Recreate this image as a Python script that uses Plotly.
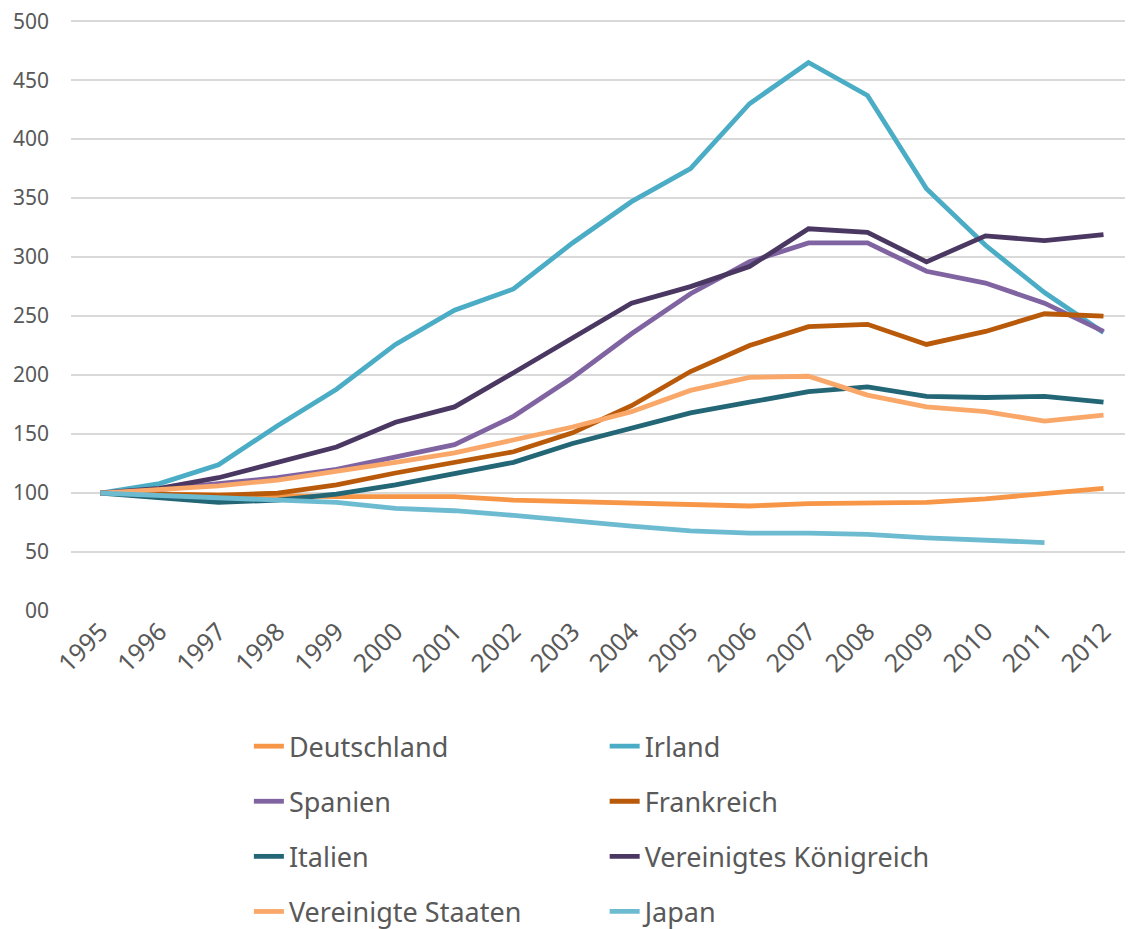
import plotly.graph_objects as go

years = [str(y) for y in range(1995, 2013)]

deutschland = [100, 99, 98, 97, 97, 97, 97, 94, 93, 92, 90, 89, 91, 91, 92, 95, 100, 104]
irland = [100, 108, 124, 157, 188, 226, 255, 273, 312, 347, 375, 430, 465, 437, 358, 310, 270, 236]
spanien = [100, 103, 108, 113, 120, 130, 141, 165, 198, 235, 269, 296, 312, 312, 288, 278, 261, 237]
frankreich = [100, 99, 98, 100, 107, 117, 126, 135, 151, 174, 203, 225, 241, 243, 226, 237, 252, 250]
italien = [100, 96, 92, 94, 99, 107, 117, 126, 142, 155, 168, 177, 186, 190, 182, 181, 182, 177]
vereinigtes_koenigreich = [100, 104, 113, 126, 139, 160, 173, 202, 232, 261, 275, 292, 324, 321, 296, 318, 314, 319]
vereinigte_staaten = [100, 103, 106, 111, 118, 126, 134, 145, 156, 169, 187, 198, 199, 183, 173, 169, 161, 166]
japan = [100, 98, 96, 95, 92, 87, 85, 81, 76, 72, 68, 66, 66, 65, 62, 60, 58, None]

y_ticks = [0, 50, 100, 150, 200, 250, 300, 350, 400, 450, 500]
y_tick_labels = ["00", "50", "100", "150", "200", "250", "300", "350", "400", "450", "500"]

# (name, values, colour, legend column)
series = [
    ("Deutschland", deutschland, "#F79646", "legend"),
    ("Irland", irland, "#4BACC6", "legend2"),
    ("Spanien", spanien, "#8064A2", "legend"),
    ("Frankreich", frankreich, "#B95A0A", "legend2"),
    ("Italien", italien, "#236676", "legend"),
    ("Vereinigtes Königreich", vereinigtes_koenigreich, "#4A3862", "legend2"),
    ("Vereinigte Staaten", vereinigte_staaten, "#F9A86A", "legend"),
    ("Japan", japan, "#6DBBD0", "legend2"),
]

FONT = "Noto Sans, Liberation Sans, sans-serif"
GREY = "#595959"

fig = go.Figure()
for name, values, colour, leg in series:
    fig.add_trace(
        go.Scatter(
            x=years,
            y=values,
            mode="lines",
            name=name,
            line={"color": colour, "width": 4.8},
            legend=leg,
            legendgroup=name,
        )
    )

# two vertical legends side by side, placed below the plot area
legend_common = {
    "font": {"family": FONT, "size": 27, "color": GREY},
    "orientation": "v",
    "xanchor": "left",
    "yanchor": "top",
    "y": -0.188,
    "tracegroupgap": 17,
    "bgcolor": "rgba(0,0,0,0)",
}

# the page adds an 8px body margin, so the plot area is shifted by 8px
fig.update_layout(
    width=1125,
    height=929,
    margin={"l": 63, "r": 0, "t": 12, "b": 326, "autoexpand": False},
    paper_bgcolor="white",
    plot_bgcolor="white",
    font={"family": FONT, "color": GREY},
    showlegend=True,
    legend={**legend_common, "x": 0.1675},
    legend2={**legend_common, "x": 0.5025},
    xaxis={
        "type": "category",
        "range": [-0.5, 17.5],
        "tickangle": -45,
        "tickfont": {"size": 25, "color": GREY},
        "showgrid": False,
        "showline": False,
        "ticks": "",
    },
    yaxis={
        "range": [0, 501],
        "tickvals": y_ticks,
        "ticktext": y_tick_labels,
        "tickfont": {"size": 21, "color": GREY},
        "showgrid": True,
        "gridcolor": "#D9D9D9",
        "gridwidth": 1.5,
        "zeroline": False,
        "showline": False,
        "ticks": "",
        "ticklabelstandoff": 21,
        "ticklabeloverflow": "allow",
    },
)

fig.write_html("out.html")
